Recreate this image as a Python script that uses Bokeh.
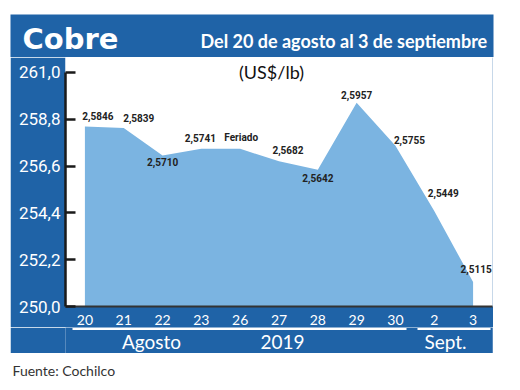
from bokeh.plotting import figure
from bokeh.layouts import column, row
from bokeh.models import (FactorRange, Range1d, FixedTicker, CustomJSTickFormatter,
                          Label, LabelSet, ColumnDataSource, Spacer)
from bokeh.core.properties import value
from bokeh.embed import file_html
from bokeh.resources import INLINE

# ---------------- data ----------------
days = ["20", "21", "22", "23", "26", "27", "28", "29", "30", "2", "3"]
price = [258.46, 258.39, 257.10, 257.41, 257.41, 256.82, 256.42, 259.57, 257.55, 254.49, 251.15]
point_labels = ["2,5846", "2,5839", "2,5710", "2,5741", "Feriado", "2,5682",
                "2,5642", "2,5957", "2,5755", "2,5449", "2,5115"]
y_ticks = [250.0, 252.2, 254.4, 256.6, 258.8, 261.0]
group_labels = ["Agosto", "2019", "Sept."]
title_text = "Cobre"
subtitle_text = "Del 20 de agosto al 3 de septiembre"
unit_text = "(US$/lb)"
source_text = "Fuente: Cochilco"

# ---------------- label placement (pixels, relative to point) ----------------
label_dx = [13, 15, 0, -1, 1, 9, 0, 0, 14, 9, 3]
label_dy = [-10, -10, 7, -11, -11, -11, 8, -8, -6, -18, -13]   # + = down

# ---------------- layout (page pixel coords) ----------------
PANEL_L, PANEL_R = 10, 493
FL, FR, FT, FB = 65, 492, 57, 308
BAND_T, BAND_B = 327, 353
Y0, Y1 = 250.0, 261.7
DARK = "#1f63a7"
LIGHT = "#7bb4e1"


def syn_x(ix):
    """page pixel x -> synthetic categorical coordinate"""
    return (ix - FL) / (FR - FL) * len(days)


def blank(width, height, xr, yr, bg="white"):
    f = figure(width=width, height=height, x_range=xr, y_range=yr,
               output_backend="svg", toolbar_location=None,
               x_axis_type=None, y_axis_type=None, min_border=0)
    f.outline_line_color = None
    f.background_fill_color = bg
    f.border_fill_color = bg
    return f


# ---------------- header ----------------
head = blank(520, FT, Range1d(0, 520), Range1d(FT, 0))
head.quad(left=PANEL_L, right=PANEL_R, top=14, bottom=FT, fill_color=DARK, line_color=None)
head.text(x=[22], y=[38.5], text=[title_text], text_font=value("DejaVu Sans"), text_font_style="bold",
          text_font_size="29px", text_color="white", text_baseline="middle")
head.text(x=[200], y=[40.5], text=[subtitle_text], text_font=value("Lato"), text_font_style="bold",
          text_font_size="18px", text_color="white", text_baseline="middle")

# ---------------- main chart ----------------
xr = FactorRange(*days, range_padding=0)
p = figure(width=PANEL_R - PANEL_L, height=BAND_T - FT, x_range=xr, y_range=Range1d(Y0, Y1),
           output_backend="svg", toolbar_location=None,
           min_border_left=FL - PANEL_L, min_border_right=PANEL_R - FR,
           min_border_top=0, min_border_bottom=BAND_T - FB)
p.title = None
p.outline_line_color = None
p.background_fill_color = "white"
p.border_fill_color = DARK
p.xgrid.visible = False
p.ygrid.visible = False

src = ColumnDataSource(dict(day=days, price=price, label=point_labels,
                            dx=label_dx, dy=[-d for d in label_dy]))
p.varea(x="day", y1=Y0, y2="price", source=src, fill_color=LIGHT)
p.add_layout(LabelSet(x="day", y="price", text="label", source=src,
                      x_offset="dx", y_offset="dy", text_align="center", text_baseline="middle",
                      text_font=value("Roboto"), text_font_style="bold",
                      text_font_size="10px", text_color="#222222"))
p.add_layout(Label(x=syn_x(271), y=Y0 + (FB - 72) / (FB - FT) * (Y1 - Y0), text=unit_text,
                   text_font="Lato", text_font_size="18px", text_color="#111111",
                   text_align="center", text_baseline="middle"))

ya = p.yaxis[0]
ya.ticker = FixedTicker(ticks=y_ticks)
ya.formatter = CustomJSTickFormatter(code="return tick.toFixed(1).replace('.', ',');")
ya.bounds = (y_ticks[0], y_ticks[-1])
ya.axis_line_color = "#1a1a1a"
ya.axis_line_width = 2.5
ya.major_tick_in = 10
ya.major_tick_out = 0
ya.major_tick_line_color = "#1a1a1a"
ya.major_tick_line_width = 2.5
ya.minor_tick_line_color = None
ya.major_label_text_color = "white"
ya.major_label_text_font = "Roboto"
ya.major_label_text_font_size = "17px"
ya.major_label_standoff = 5

xa = p.xaxis[0]
xa.axis_line_color = "#333333"
xa.axis_line_width = 2
xa.major_tick_line_color = None
xa.minor_tick_line_color = None
xa.major_label_text_color = "white"
xa.major_label_text_font = "Lato"
xa.major_label_text_font_size = "14px"
xa.major_label_standoff = 2

# ---------------- group band ----------------
band = figure(width=PANEL_R - PANEL_L, height=BAND_B - BAND_T, x_range=xr,
              y_range=Range1d(BAND_B - BAND_T, 0), output_backend="svg", toolbar_location=None,
              x_axis_type=None, y_axis_type=None,
              min_border_left=FL - PANEL_L, min_border_right=PANEL_R - FR,
              min_border_top=0, min_border_bottom=0)
band.title = None
band.outline_line_color = None
band.background_fill_color = DARK
band.border_fill_color = DARK
band.segment(x0=[syn_x(72), syn_x(417)], x1=[syn_x(406), syn_x(490)], y0=[1.5, 1.5], y1=[1.5, 1.5],
             line_color="white", line_width=2)
band.text(x=[syn_x(151), syn_x(282), syn_x(445)], y=[14, 14, 14], text=group_labels,
          text_font=value("Lato"), text_font_size="19px", text_color="white",
          text_align="center", text_baseline="middle")

# ---------------- footer ----------------
foot = blank(520, 36, Range1d(0, 520), Range1d(36, 0))
foot.text(x=[12], y=[17], text=[source_text], text_font=value("Lato"), text_font_size="14px",
          text_color="#333333", text_baseline="middle")

layout = column(head,
                row(Spacer(width=PANEL_L), p),
                row(Spacer(width=PANEL_L), band),
                foot)
open("out.html", "w").write(file_html(layout, INLINE))
